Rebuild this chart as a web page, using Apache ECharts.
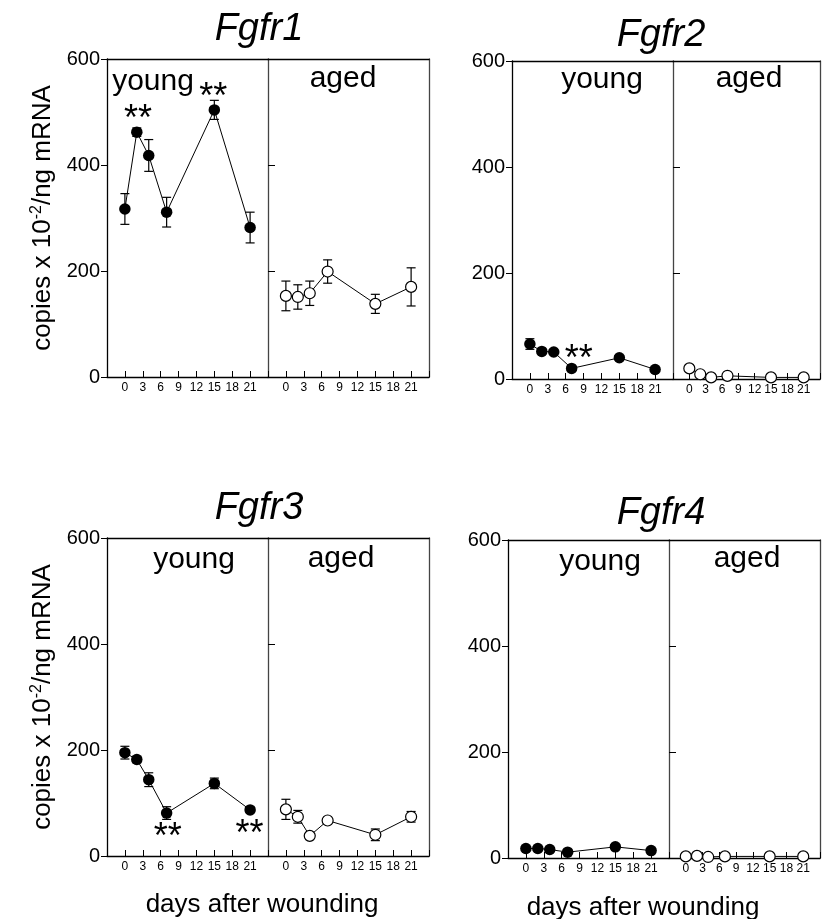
<!DOCTYPE html>
<html>
<head>
<meta charset="utf-8">
<script src="https://cdn.jsdelivr.net/npm/echarts@6/dist/echarts.min.js"></script>
<style>
  html, body { margin: 0; padding: 0; background: #fff; }
  #chart { width: 823px; height: 919px; }
</style>
</head>
<body>
<div id="chart"></div>
<script>
// sampling days (x values of the points)
var days = [0, 2, 4, 7, 15, 21];
var dayTicks = [0, 3, 6, 9, 12, 15, 18, 21];
var yTicks = [0, 200, 400, 600];

// means and error (copies x 10^-2 / ng mRNA)
var fgfr1Young = [317, 462, 418, 311, 504, 282];
var fgfr1YoungErr = [29, 8, 30, 28, 18, 29];
var fgfr1Aged = [153, 151, 158, 199, 138, 170];
var fgfr1AgedErr = [28, 23, 23, 22, 18, 36];

var fgfr2Young = [66, 52, 51, 20, 40, 18];
var fgfr2YoungErr = [10, 4, 3, 3, 4, 3];
var fgfr2Aged = [20, 9, 3, 6, 3, 3];
var fgfr2AgedErr = [6, 2, 2, 3, 1, 1];

var fgfr3Young = [195, 182, 144, 81, 137, 87];
var fgfr3YoungErr = [12, 6, 13, 12, 10, 5];
var fgfr3Aged = [88, 74, 38, 67, 40, 74];
var fgfr3AgedErr = [19, 12, 0, 0, 11, 10];

var fgfr4Young = [18, 18, 16, 11, 21, 14];
var fgfr4YoungErr = [3, 2, 2, 2, 3, 2];
var fgfr4Aged = [3, 4, 2, 3, 3, 3];
var fgfr4AgedErr = [1, 1, 2, 2, 1, 1];

// significance marks (**) [day, level]
var fgfr1Stars = [[2.2, 500], [14.8, 541]];
var fgfr2Stars = [[8.2, 51]];
var fgfr3Stars = [[7.2, 49], [20.9, 54]];
var fgfr4Stars = [];

var FONT = "'Liberation Sans', Arial, Helvetica, sans-serif";
var NARROW = "'Liberation Sans Narrow', 'Liberation Sans', Arial, sans-serif";

// layout of the 4 panels
var panels = [
  { title: 'Fgfr1', left: 107, top: 59, young: fgfr1Young, youngErr: fgfr1YoungErr, aged: fgfr1Aged, agedErr: fgfr1AgedErr, stars: fgfr1Stars,
    titleX: 259, titleBase: 43, youngX: 153, youngBase: 92, agedX: 343, agedBase: 89.5, yTitle: true },
  { title: 'Fgfr2', left: 512, top: 61, young: fgfr2Young, youngErr: fgfr2YoungErr, aged: fgfr2Aged, agedErr: fgfr2AgedErr, stars: fgfr2Stars,
    titleX: 661, titleBase: 49, youngX: 602, youngBase: 90, agedX: 749, agedBase: 89, yTitle: false },
  { title: 'Fgfr3', left: 107, top: 538, young: fgfr3Young, youngErr: fgfr3YoungErr, aged: fgfr3Aged, agedErr: fgfr3AgedErr, stars: fgfr3Stars,
    titleX: 259, titleBase: 522, youngX: 194, youngBase: 570, agedX: 341, agedBase: 569, yTitle: true, xTitleX: 262, xTitleBase: 914 },
  { title: 'Fgfr4', left: 508, top: 540, young: fgfr4Young, youngErr: fgfr4YoungErr, aged: fgfr4Aged, agedErr: fgfr4AgedErr, stars: fgfr4Stars,
    titleX: 661, titleBase: 527, youngX: 600, youngBase: 572, agedX: 747, agedBase: 569, yTitle: false, xTitleX: 643, xTitleBase: 917 }
];
var subW = 161, subH = 318;

var chart = echarts.init(document.getElementById('chart'));

function zip(xs, ys, es) {
  var out = [];
  for (var i = 0; i < xs.length; i++) {
    out.push(es ? [xs[i], ys[i], es[i]] : [xs[i], ys[i]]);
  }
  return out;
}

function renderErr(params, api) {
  var x = api.value(0), y = api.value(1), e = api.value(2);
  if (!e) return;
  var lo = api.coord([x, y - e]);
  var hi = api.coord([x, y + e]);
  var w = 4.5;
  var st = { stroke: '#000', lineWidth: 1.2 };
  return {
    type: 'group',
    children: [
      { type: 'line', shape: { x1: lo[0], y1: lo[1], x2: hi[0], y2: hi[1] }, style: st },
      { type: 'line', shape: { x1: lo[0] - w, y1: lo[1], x2: lo[0] + w, y2: lo[1] }, style: st },
      { type: 'line', shape: { x1: hi[0] - w, y1: hi[1], x2: hi[0] + w, y2: hi[1] }, style: st }
    ]
  };
}

var grids = [], xAxes = [], yAxes = [], series = [], graphics = [];

panels.forEach(function (p, pi) {
  for (var s = 0; s < 2; s++) {
    var g = pi * 2 + s;
    var aged = s === 1;
    grids.push({ left: p.left + s * subW, top: p.top, width: subW, height: subH, containLabel: false });

    // bottom axis with inside ticks
    xAxes.push({
      gridIndex: g, type: 'value', position: 'bottom', min: -3, max: 24, interval: 3,
      axisLine: { show: true, onZero: false, lineStyle: { color: '#000', width: 1.3 } },
      axisTick: { show: true, inside: true, length: 6, lineStyle: { color: '#000', width: 1 } },
      axisLabel: {
        show: true, margin: 5, fontSize: 12, fontFamily: NARROW, color: '#000',
        formatter: function (v) { return dayTicks.indexOf(v) >= 0 ? String(v) : ''; }
      },
      splitLine: { show: false }
    });
    // top border
    xAxes.push({
      gridIndex: g, type: 'value', position: 'top', min: -3, max: 24,
      axisLine: { show: true, onZero: false, lineStyle: { color: '#000', width: 1.3 } },
      axisTick: { show: false }, axisLabel: { show: false }, splitLine: { show: false }
    });
    // left axis (young: labelled, aged: the divider)
    yAxes.push({
      gridIndex: g, type: 'value', position: 'left', min: 0, max: 600, interval: 200,
      axisLine: { show: true, onZero: false, lineStyle: { color: aged ? '#444' : '#000', width: 1.3 } },
      axisTick: { show: true, inside: aged, length: aged ? 7 : 6, lineStyle: { color: '#000', width: 1 } },
      axisLabel: {
        show: !aged, margin: 7, fontSize: 20, fontFamily: FONT, color: '#000',
        formatter: function (v) { return yTicks.indexOf(v) >= 0 ? String(v) : ''; }
      },
      splitLine: { show: false }
    });
    // right border for aged sub-panel
    yAxes.push({
      gridIndex: g, type: 'value', position: 'right', min: 0, max: 600, show: aged,
      axisLine: { show: true, onZero: false, lineStyle: { color: '#444', width: 1.3 } },
      axisTick: { show: false }, axisLabel: { show: false }, splitLine: { show: false }
    });

    var mean = aged ? p.aged : p.young;
    var err = aged ? p.agedErr : p.youngErr;

    series.push({
      type: 'custom', xAxisIndex: 2 * g, yAxisIndex: 2 * g, z: 1,
      renderItem: renderErr, encode: { x: 0, y: 1 },
      data: zip(days, mean, err), silent: true
    });
    series.push({
      type: 'line', xAxisIndex: 2 * g, yAxisIndex: 2 * g, z: 3,
      symbol: 'circle', symbolSize: aged ? 11 : 11.5, showSymbol: true,
      lineStyle: { color: '#000', width: 1 },
      itemStyle: aged ? { color: '#fff', borderColor: '#000', borderWidth: 1.2 } : { color: '#000', borderColor: '#000', borderWidth: 0 },
      data: zip(days, mean), silent: true
    });
    if (!aged && p.stars.length) {
      series.push({
        type: 'scatter', xAxisIndex: 2 * g, yAxisIndex: 2 * g, z: 4,
        symbol: 'circle', symbolSize: 1, itemStyle: { color: 'rgba(0,0,0,0)', opacity: 1 },
        label: {
          show: true, position: 'inside', formatter: '**', offset: [0, 8],
          fontSize: 36, fontFamily: FONT, color: '#000', opacity: 1, textBorderWidth: 0
        },
        data: p.stars, silent: true
      });
    }
  }

  // titles and sub-panel labels
  graphics.push({
    type: 'text', x: p.titleX, y: p.titleBase - 13.2,
    style: { text: p.title, font: 'italic 38px ' + FONT, fill: '#000', align: 'center', verticalAlign: 'middle' }
  });
  graphics.push({
    type: 'text', x: p.youngX, y: p.youngBase - 10.4,
    style: { text: 'young', font: '30px ' + FONT, fill: '#000', align: 'center', verticalAlign: 'middle' }
  });
  graphics.push({
    type: 'text', x: p.agedX, y: p.agedBase - 10.4,
    style: { text: 'aged', font: '30px ' + FONT, fill: '#000', align: 'center', verticalAlign: 'middle' }
  });
  if (p.yTitle) {
    graphics.push({
      type: 'text', x: 43, y: p.top + subH / 2, rotation: Math.PI / 2,
      style: {
        text: 'copies x 10{sup|-2}/ng mRNA', font: '26px ' + FONT, fill: '#000',
        align: 'center', verticalAlign: 'middle',
        rich: { sup: { fontSize: 16, fontFamily: FONT, fill: '#000', verticalAlign: 'top', padding: [0, 0, 12, 0] } }
      }
    });
  }
  if (p.xTitleX) {
    graphics.push({
      type: 'text', x: p.xTitleX, y: p.xTitleBase - 9,
      style: { text: 'days after wounding', font: '26px ' + FONT, fill: '#000', align: 'center', verticalAlign: 'middle' }
    });
  }
});

chart.setOption({
  animation: false,
  backgroundColor: '#fff',
  grid: grids,
  xAxis: xAxes,
  yAxis: yAxes,
  series: series,
  graphic: graphics
});
</script>
</body>
</html>
